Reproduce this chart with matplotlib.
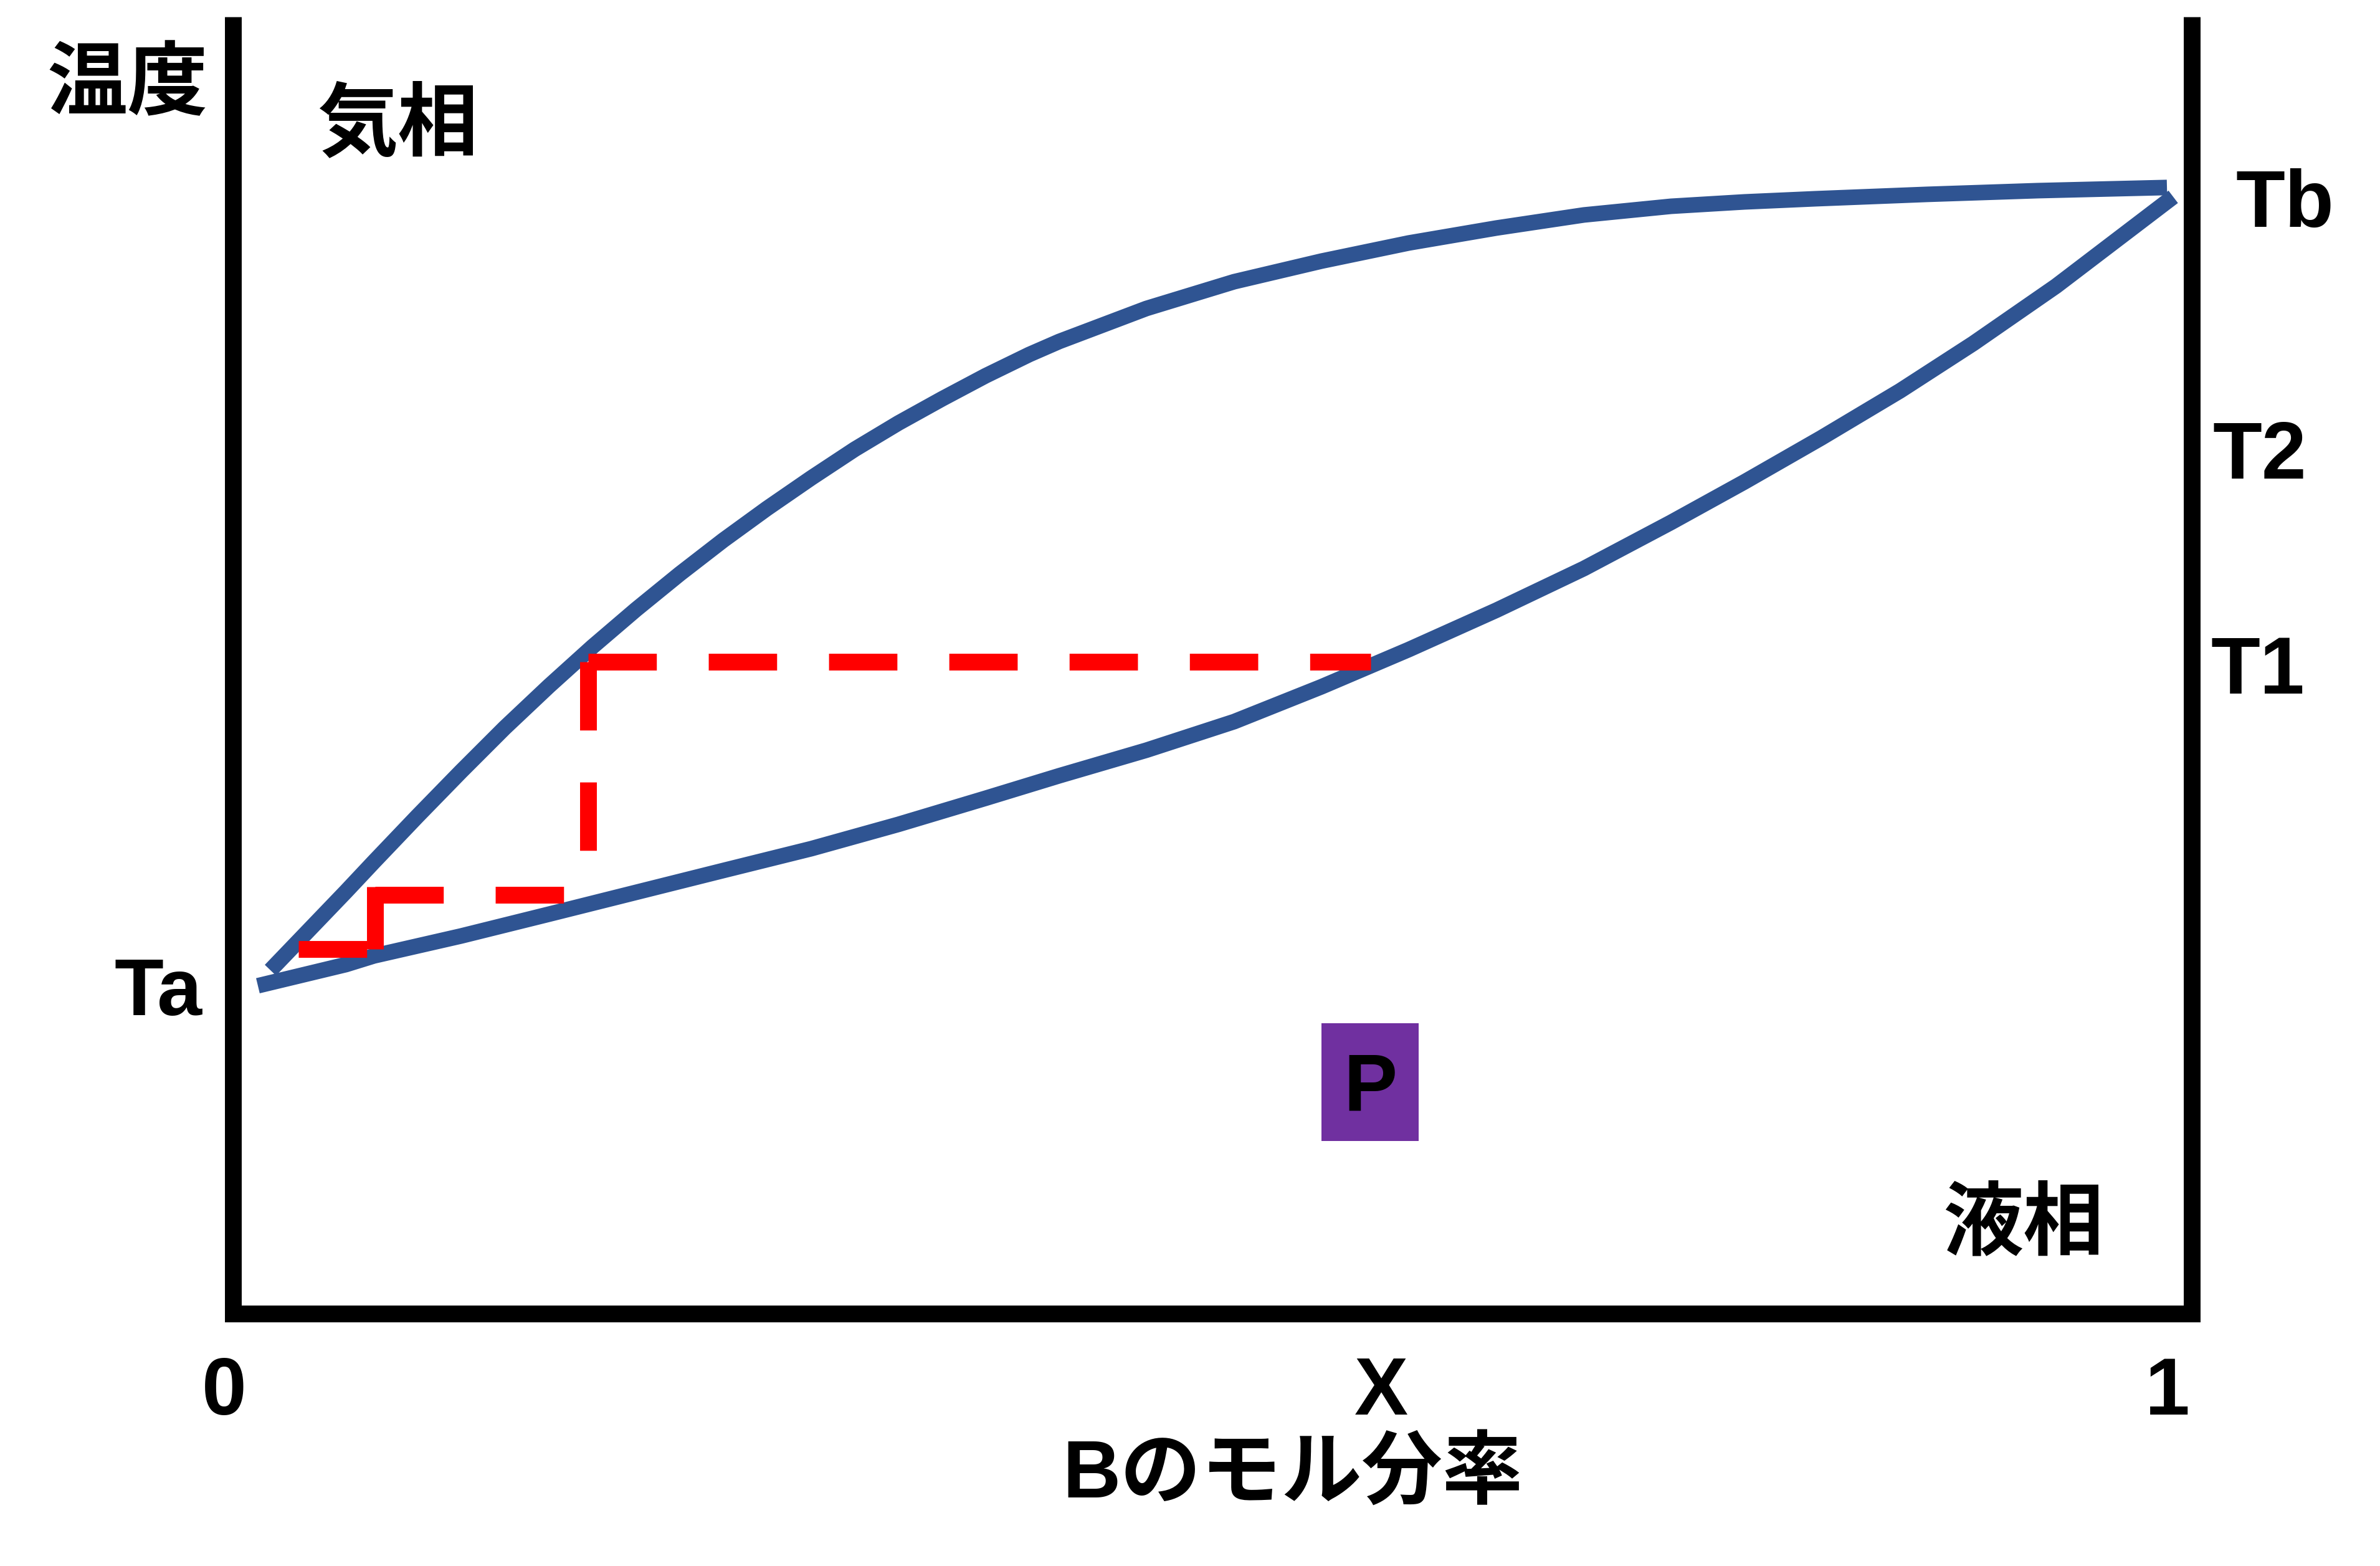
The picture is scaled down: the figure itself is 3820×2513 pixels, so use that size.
import matplotlib
matplotlib.use("Agg")
import matplotlib.pyplot as plt
from matplotlib.patches import Rectangle

plt.rcParams['font.family'] = ['Liberation Sans', 'Noto Sans CJK JP']
plt.rcParams['font.weight'] = 'bold'
plt.rcParams['lines.scale_dashes'] = False

# vapour (dew point) curve: B mole fraction vs temperature
x_vapor = [0.0191, 0.0576, 0.0719, 0.0941, 0.1164, 0.1387, 0.1613, 0.1835, 0.2058,
           0.2281, 0.2503, 0.2726, 0.2952, 0.3174, 0.3397, 0.3620, 0.3842, 0.4065,
           0.4218, 0.4663, 0.5111, 0.5557, 0.6002, 0.6450, 0.6896, 0.7341, 0.7716,
           0.8079, 0.8648, 0.9214, 0.9873]
T_vapor = [30.51, 37.49, 40.14, 44.19, 48.17, 52.05, 55.76, 59.25, 62.57,
           65.73, 68.72, 71.54, 74.25, 76.80, 79.13, 81.28, 83.33, 85.22,
           86.38, 89.31, 91.69, 93.52, 95.13, 96.46, 97.62, 98.39, 98.78,
           99.06, 99.45, 99.78, 100.06]

# liquid (bubble point) curve
x_liquid = [0.0127, 0.0576, 0.0719, 0.1164, 0.1613, 0.2058, 0.2503, 0.2952, 0.3397,
            0.3842, 0.4218, 0.4663, 0.5111, 0.5557, 0.6002, 0.6450, 0.6896, 0.7341,
            0.7716, 0.8107, 0.8511, 0.8884, 0.9307, 0.9905]
T_liquid = [29.13, 31.01, 31.78, 33.55, 35.49, 37.43, 39.37, 41.31, 43.47,
            45.79, 47.79, 50.06, 52.60, 55.70, 59.00, 62.50, 66.20, 70.30,
            73.90, 77.80, 82.00, 86.20, 91.30, 99.23]

# distillation steps (red dashed tie lines), each segment drawn from its corner
step_x = [[0.1813, 0.5808], [0.1813, 0.1813], [0.0725, 0.170], [0.0725, 0.0725], [0.0334, 0.0725]]
step_T = [[57.9, 57.9], [57.9, 37.0], [37.2, 37.2], [37.9, 32.4], [32.4, 32.4]]

# composition of point P
x_P = 0.5805
P_box = (0.5557, 15.34, 0.0496, 10.46)

T_top = 115.2

fig = plt.figure(figsize=(38.2, 25.13), dpi=100)
ax = fig.add_axes([0, 0, 1, 1])
ax.set_xlim(-0.11896, 1.09606)
ax.set_ylim(-22.43, 116.72)
ax.axis('off')

# frame: temperature axes on both sides, composition axis at the bottom
ax.plot([0, 0, 1, 1], [T_top, 0, 0, T_top], color='black', lw=19.4,
        solid_joinstyle='miter', solid_capstyle='butt', zorder=1)

ax.plot(x_vapor, T_vapor, color='#2F5492', lw=18, solid_capstyle='butt',
        solid_joinstyle='round', zorder=2)
ax.plot(x_liquid, T_liquid, color='#2F5492', lw=18, solid_capstyle='butt',
        solid_joinstyle='round', zorder=2)

for xs, ts in zip(step_x, step_T):
    ax.plot(xs, ts, color='#FF0000', lw=19.4, dashes=(79, 60),
            dash_capstyle='butt', zorder=3)

ax.add_patch(Rectangle(P_box[:2], P_box[2], P_box[3], facecolor='#7030A0',
                       edgecolor='none', zorder=3))

fs = 93
kw = dict(fontsize=fs, fontweight='bold', ha='center', va='baseline', zorder=4)
ax.text(-0.0538, 107.1, '温度', **kw)
ax.text(0.0840, 103.5, '気相', **kw)
ax.text(0.9138, 5.8, '液相', **kw)
ax.text(1.0474, 96.6, 'Tb', **kw)
ax.text(1.0347, 74.2, 'T2', **kw)
ax.text(1.0337, 55.1, 'T1', **kw)
ax.text(-0.0382, 26.5, 'Ta', **kw)
ax.text(x_P, 18.0, 'P', **kw)
ax.text(-0.0045, -8.97, '0', **kw)
ax.text(0.5862, -8.97, 'X', **kw)
ax.text(0.9875, -8.97, '1', **kw)
ax.text(0.541, -16.4, 'Bのモル分率', **kw)

fig.savefig('out.png', dpi=100)
